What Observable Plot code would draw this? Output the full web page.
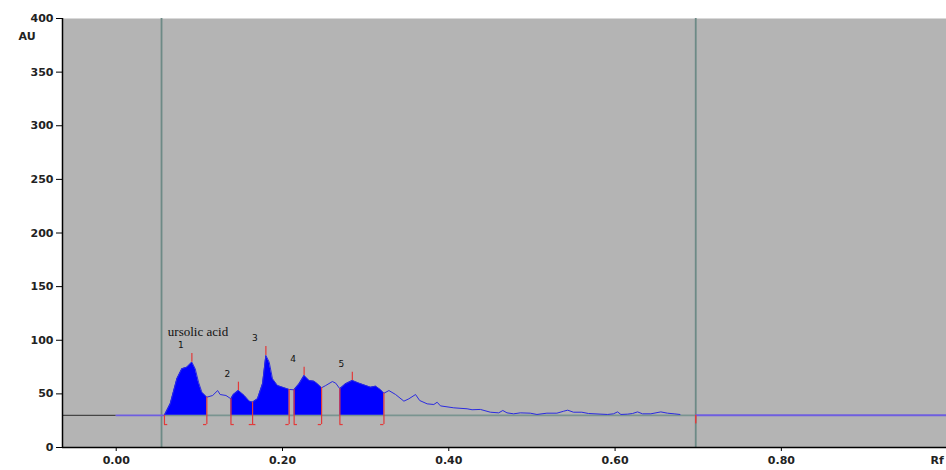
<!DOCTYPE html>
<html><head><meta charset="utf-8">
<script src="https://cdn.jsdelivr.net/npm/d3@7"></script>
<script src="https://cdn.jsdelivr.net/npm/@observablehq/plot@0.6"></script>
<style>html,body{margin:0;padding:0;background:#fff;}</style>
</head><body><div id="chart"></div>
<script>
// Densitogram trace (Rf, AU)
const rf = [0.058,0.065,0.073,0.079,0.085,0.091,0.095,0.099,0.103,0.109,0.116,0.122,0.125,0.132,0.138,0.141,0.147,0.154,0.160,0.164,0.170,0.176,0.180,0.184,0.188,0.194,0.200,0.208,0.214,0.220,0.226,0.232,0.238,0.242,0.247,0.252,0.260,0.264,0.269,0.276,0.284,0.292,0.300,0.306,0.312,0.318,0.322,0.328,0.336,0.346,0.352,0.360,0.365,0.374,0.382,0.386,0.390,0.406,0.422,0.428,0.438,0.450,0.460,0.465,0.470,0.478,0.486,0.498,0.506,0.518,0.530,0.538,0.543,0.550,0.560,0.568,0.583,0.591,0.598,0.603,0.607,0.615,0.621,0.627,0.633,0.643,0.655,0.663,0.671,0.678];
const au = [30,40.7,64,73.4,74.9,79.6,73.4,60.9,51.6,46.9,48.5,53.1,49.4,48.5,45.4,49.4,53.1,48.5,43.2,42.2,45.4,59.4,85.8,79.6,64,57.8,56.2,54.1,53.8,59.4,67.1,62.5,61.8,59.4,55.7,57.8,61.5,60,54.7,59.4,62.5,60,57.8,56.2,57.2,53.8,50.6,53.1,49.4,43.2,45.4,49.4,43.8,40.7,40.1,42.2,38.8,37.0,36.1,35.2,35.5,32.9,32.3,34.5,32.3,31.4,32.3,32.0,30.8,32.0,32.0,33.8,34.8,32.9,32.9,31.7,31.1,30.8,31.4,33.2,30.8,31.1,31.7,33.2,31.4,31.4,33.2,32.0,31.4,30.8];

// Integrated peaks
const peakNames = ["1","2","3","4","5"];
const peakStart = [0.058,0.138,0.164,0.214,0.269];
const peakEnd   = [0.109,0.164,0.208,0.247,0.322];
const peakMax   = [0.091,0.147,0.180,0.226,0.284];
const peakTop   = [87.6,60.9,94.2,74.9,70.2];
const compound = "ursolic acid";

// Scan settings
const baselineAU = 30;
const trackStart = 0.0545;
const trackEnd = 0.697;
const markerBottom = 21.4;
const xDomain = [-0.0646, 0.9986];
const yDomain = [0, 400];
const xTicks = [0, 0.2, 0.4, 0.6, 0.8];
const yTicks = [0, 50, 100, 150, 200, 250, 300, 350, 400];

const curve = rf.map((r, i) => ({rf: r, au: au[i]}));
const valAt = r => { const i = rf.findIndex(v => Math.abs(v - r) < 1e-9); return au[i]; };
const areaData = [];
peakNames.forEach((p, k) => {
  curve.filter(d => d.rf >= peakStart[k] - 1e-9 && d.rf <= peakEnd[k] + 1e-9)
       .forEach(d => areaData.push({...d, peak: p}));
});
const bounds = [...new Set([...peakStart, ...peakEnd])].map(b => ({rf: b, au: valAt(b)}));
const peaks = peakNames.map((p, k) => ({name: p, rf: peakMax[k], top: peakTop[k], au: valAt(peakMax[k])}));

const chart = Plot.plot({
  width: 946, height: 470,
  marginLeft: 62, marginRight: 0, marginTop: 18, marginBottom: 23,
  x: {domain: xDomain},
  y: {domain: yDomain},
  style: {fontFamily: "DejaVu Sans", background: "#fff", overflow: "visible"},
  marks: [
    Plot.frame({fill: "#b4b4b4", stroke: null}),
    Plot.ruleX([trackStart, trackEnd], {stroke: "#6d8a86", strokeWidth: 1.8}),
    Plot.ruleY([baselineAU], {x1: xDomain[0], x2: 0, stroke: "#454545", strokeWidth: 1.2}),
    Plot.ruleY([baselineAU], {x1: 0, x2: peakStart[0], stroke: "#6e5ee0", strokeWidth: 1.8}),
    Plot.ruleY([baselineAU], {x1: peakStart[0], x2: trackEnd, stroke: "#7a9490", strokeWidth: 1.8}),
    Plot.ruleY([baselineAU], {x1: trackEnd, x2: xDomain[1], stroke: "#6e5ee0", strokeWidth: 2}),
    Plot.areaY(areaData, {x: "rf", y1: baselineAU, y2: "au", z: "peak", fill: "#0000ff"}),
    Plot.line(curve, {x: "rf", y: "au", stroke: "#2b2be0", strokeWidth: 1}),
    // red peak boundaries
    Plot.ruleX(bounds, {x: "rf", y1: markerBottom, y2: "au", stroke: "#e23a3a", strokeWidth: 1.2}),
    Plot.ruleY(peakStart, {x1: d => d, x2: d => d + 0.004, y: markerBottom, stroke: "#e23a3a", strokeWidth: 1.2}),
    Plot.ruleY(peakEnd, {x1: d => d - 0.004, x2: d => d, y: markerBottom, stroke: "#e23a3a", strokeWidth: 1.2}),
    Plot.ruleX([trackEnd], {y1: 22, y2: baselineAU, stroke: "#e23a3a", strokeWidth: 1.5}),
    // peak maxima ticks
    Plot.ruleX(peaks, {x: "rf", y1: "au", y2: "top", stroke: "#e23a3a", strokeWidth: 1.2}),
    Plot.text(peaks, {x: "rf", y: "top", text: "name", dx: -11, dy: -8, fontSize: 9, fill: "#111"}),
    Plot.text([compound], {x: peakMax[0], y: peakTop[0], text: d => d, textAnchor: "start", dx: -24, dy: -22, fontSize: 13, fontFamily: "Liberation Serif", fill: "#111"}),
    // axes
    Plot.ruleX([xDomain[0]], {stroke: "#000", strokeWidth: 1.5}),
    Plot.ruleY([0], {stroke: "#000", strokeWidth: 1.5}),
    Plot.axisY({ticks: yTicks, tickSize: 6, tickPadding: 3, label: null, fontSize: 11, fontWeight: "bold", fill: "#222"}),
    Plot.axisX({ticks: xTicks, tickSize: 4, tickPadding: 5, tickFormat: d3.format(".2f"), label: null, fontSize: 11, fontWeight: "bold", fill: "#222"}),
    Plot.text(["AU"], {frameAnchor: "top-left", text: d => d, dx: -44, dy: 14, fontSize: 11, fontWeight: "bold", fill: "#222"}),
    Plot.text(["Rf"], {frameAnchor: "bottom-right", text: d => d, textAnchor: "start", dx: -16, dy: 16, fontSize: 11, fontWeight: "bold", fill: "#222"})
  ]
});
document.getElementById("chart").appendChild(chart);
</script>
</body></html>
